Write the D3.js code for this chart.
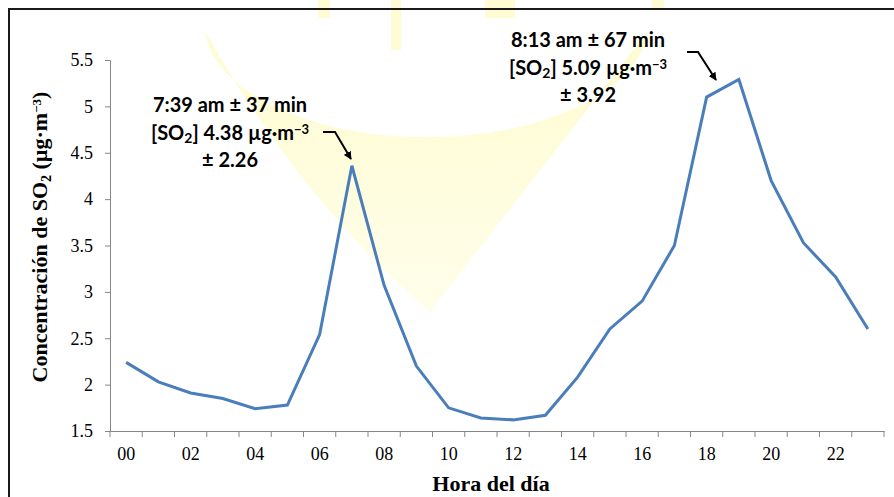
<!DOCTYPE html>
<html lang="es">
  <head>
    <meta charset="UTF-8" />
    <title>SO2 por hora</title>
    <style>
      body {
        margin: 0;
        background: #fff;
      }
      svg {
        display: block;
      }
      .tick text {
        font-family: "Liberation Serif", "Times New Roman", serif;
        font-size: 18px;
        fill: #000;
      }
      .title {
        font-family: "Liberation Serif", "Times New Roman", serif;
        font-size: 22px;
        font-weight: bold;
      }
      .note {
        font-family: Lato, "Liberation Sans", sans-serif;
        font-size: 20px;
        font-weight: bold;
      }
    </style>
  </head>

  <body>
    <div class="container"></div>

    <script src="https://d3js.org/d3.v7.min.js"></script>
    <script>
      // datos: concentración media de SO2 por hora
      const horas = d3.range(24).map((h) => String(h).padStart(2, "0"));
      const so2 = [
        2.24, 2.03, 1.91, 1.85, 1.74, 1.78, 2.54, 4.36, 3.07, 2.2, 1.75, 1.64,
        1.62, 1.67, 2.08, 2.6, 2.9, 3.5, 5.1, 5.29, 4.2, 3.53, 3.16, 2.6,
      ];
      const yTicks = [1.5, 2, 2.5, 3, 3.5, 4, 4.5, 5, 5.5];

      const W = 894,
        H = 497;
      const svg = d3
        .select(".container")
        .append("svg")
        .attr("width", W)
        .attr("height", H);

      const defs = svg.append("defs");

      // marca de agua amarilla de fondo (muy tenue)
      const grad = defs
        .append("linearGradient")
        .attr("id", "wmg")
        .attr("x1", 0)
        .attr("y1", 0)
        .attr("x2", 0)
        .attr("y2", 1);
      grad.append("stop").attr("offset", "0%").attr("stop-color", "#fffbd0");
      grad.append("stop").attr("offset", "100%").attr("stop-color", "#fffeea");

      const wm = svg.append("g");
      wm.append("path")
        .attr("d", "M205,31 A222,114 0 0 0 648,31 L430,312 Q300,200 205,31 Z")
        .attr("fill", "url(#wmg)");
      const bars = wm.append("g").attr("fill", "#fffbd2");
      bars.append("rect").attr("x", 318).attr("y", 0).attr("width", 12).attr("height", 18);
      bars.append("rect").attr("x", 391).attr("y", 0).attr("width", 10).attr("height", 50);
      bars.append("rect").attr("x", 485).attr("y", 0).attr("width", 30).attr("height", 18);
      bars.append("rect").attr("x", 652).attr("y", 0).attr("width", 12).attr("height", 9);

      // marco
      svg
        .append("rect")
        .attr("x", 9)
        .attr("y", 9)
        .attr("width", W + 20)
        .attr("height", H + 20)
        .attr("fill", "none")
        .attr("stroke", "#1a1a1a")
        .attr("stroke-width", 2);

      // escalas
      const x = d3.scaleBand().domain(horas).range([110, 884]);
      const y = d3.scaleLinear().domain([1.5, 5.5]).range([431, 60]);

      // eje Y
      const gy = svg
        .append("g")
        .attr("transform", "translate(110,0)")
        .call(
          d3
            .axisLeft(y)
            .tickValues(yTicks)
            .tickSize(5)
            .tickPadding(12)
            .tickFormat(d3.format("~g"))
        );
      gy.selectAll("path, line").attr("stroke", "#868686");

      // eje X: marcas en los bordes de categoría, etiquetas cada 2 horas
      const gx = svg
        .append("g")
        .attr("transform", "translate(0,431)")
        .call(
          d3
            .axisBottom(x)
            .tickSize(0)
            .tickPadding(12)
            .tickFormat((d, i) => (i % 2 === 0 ? d : ""))
        );
      gx.select(".domain").attr("stroke", "#868686");
      gx.selectAll(".tick text").attr("dy", "0.95em");
      svg
        .append("g")
        .selectAll("line")
        .data(d3.range(25))
        .join("line")
        .attr("x1", (i) => x.range()[0] + i * x.step())
        .attr("x2", (i) => x.range()[0] + i * x.step())
        .attr("y1", 431)
        .attr("y2", 437)
        .attr("stroke", "#868686");

      // línea de datos
      const line = d3
        .line()
        .x((d, i) => x(horas[i]) + x.bandwidth() / 2)
        .y((d) => y(d));
      svg
        .append("path")
        .datum(so2)
        .attr("d", line)
        .attr("fill", "none")
        .attr("stroke", "#4a7ebb")
        .attr("stroke-width", 3)
        .attr("stroke-linejoin", "miter");

      // títulos de ejes
      svg
        .append("text")
        .attr("class", "title")
        .attr("x", 491)
        .attr("y", 491)
        .attr("text-anchor", "middle")
        .text("Hora del día");

      const yt = svg
        .append("text")
        .attr("class", "title")
        .attr("text-anchor", "middle")
        .attr("transform", "translate(47,237) rotate(-90)");
      yt.append("tspan").text("Concentración de SO");
      yt.append("tspan").attr("baseline-shift", "-25%").attr("font-size", "14px").text("2");
      yt.append("tspan").text(" (µg·m");
      yt.append("tspan").attr("baseline-shift", "45%").attr("font-size", "13px").text("−3");
      yt.append("tspan").text(")");

      // anotaciones
      defs
        .append("marker")
        .attr("id", "head")
        .attr("viewBox", "0 0 10 10")
        .attr("refX", 9)
        .attr("refY", 5)
        .attr("markerWidth", 4)
        .attr("markerHeight", 4)
        .attr("orient", "auto")
        .append("path")
        .attr("d", "M0,0 L10,5 L0,10 Z")
        .attr("fill", "#000");

      function note(cx, y0, lines) {
        const t = svg.append("text").attr("class", "note").attr("text-anchor", "middle");
        lines.forEach((parts, k) => {
          const ts = t.append("tspan").attr("x", cx).attr("y", y0 + k * 27.5);
          parts.forEach((p) => {
            const s = ts.append("tspan").text(p.t);
            if (p.sub) s.attr("baseline-shift", "-20%").attr("font-size", "14px");
            if (p.sup) s.attr("baseline-shift", "45%").attr("font-size", "13px");
          });
        });
      }
      function arrow(pts) {
        svg
          .append("path")
          .attr("d", d3.line()(pts))
          .attr("fill", "none")
          .attr("stroke", "#000")
          .attr("stroke-width", 2)
          .attr("marker-end", "url(#head)");
      }

      note(230, 112, [
        [{ t: "7:39 am ± 37 min" }],
        [{ t: "[SO" }, { t: "2", sub: true }, { t: "] 4.38 µg·m" }, { t: "−3", sup: true }],
        [{ t: "± 2.26" }],
      ]);
      arrow([
        [323, 132],
        [335, 132],
        [351, 159],
      ]);

      note(588, 47, [
        [{ t: "8:13 am ± 67 min" }],
        [{ t: "[SO" }, { t: "2", sub: true }, { t: "] 5.09 µg·m" }, { t: "−3", sup: true }],
        [{ t: "± 3.92" }],
      ]);
      arrow([
        [687, 52],
        [698, 52],
        [716, 80],
      ]);
    </script>
  </body>
</html>
